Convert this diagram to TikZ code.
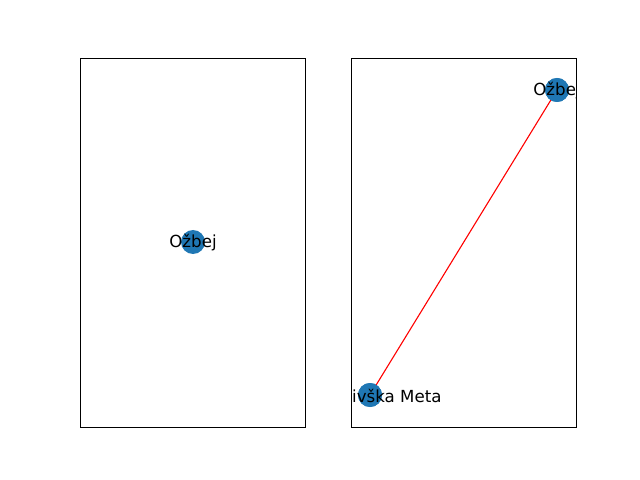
\documentclass[tikz,border=0pt]{standalone}
\usepackage{fontspec}
\setmainfont{DejaVu Sans}
\definecolor{mplblue}{HTML}{1F77B4}
\tikzset{
  axbox/.style={draw=black, line width=0.8bp},
  vert/.style={circle, fill=mplblue, minimum size=24bp, inner sep=0pt},
  lbl/.style={inner sep=0pt, font=\fontsize{16.7}{20}\selectfont},
  edgeline/.style={draw=red, line width=1.1bp}
}
\begin{document}
\begin{tikzpicture}[x=1bp, y=-1bp]
\useasboundingbox (0,0) rectangle (640,480);
% left axes
\node[vert] (a1) at (193,242) {};
\node[lbl] (la1) at (193,243) {Ožbej};
\draw[axbox] (80,58) rectangle (305,427);
% right axes
\node[vert] (b1) at (557,90) {};
\node[vert] (b2) at (370,395) {};
\draw[edgeline] (b1.center) -- (b2.center);
\node[vert] at (557,90) {};
\node[vert] at (370,395) {};
\begin{scope}
\clip (351,58) rectangle (576,427);
\node[lbl] (lb1) at (557,91) {Ožbej};
\node[lbl, anchor=west] (lb2) at (352,396) {ivška Meta};
\end{scope}
\draw[axbox] (351,58) rectangle (576,427);
\end{tikzpicture}
\end{document}
